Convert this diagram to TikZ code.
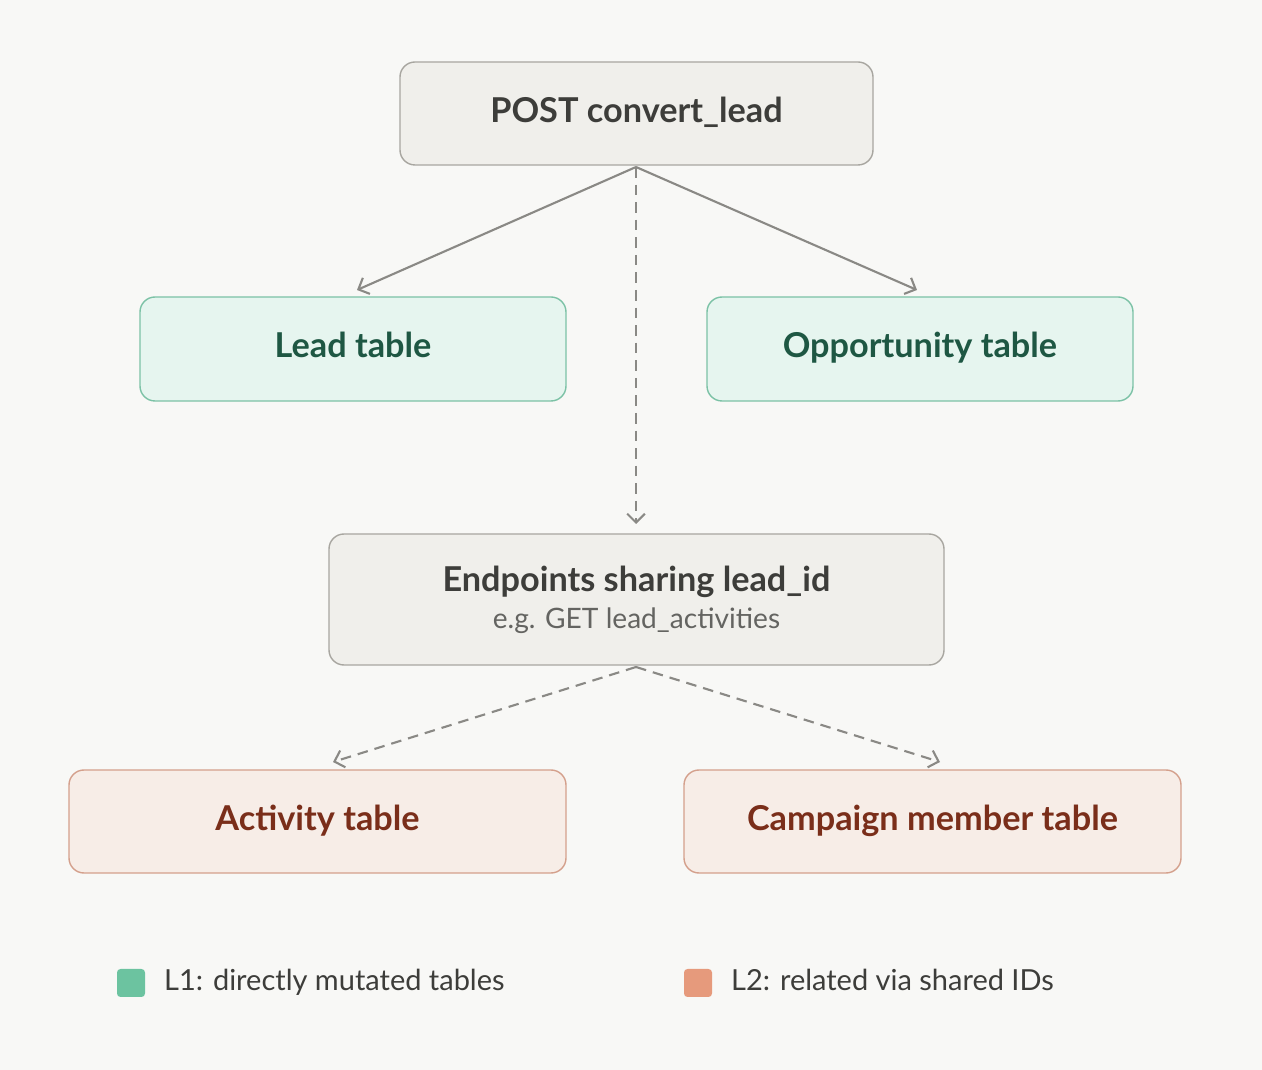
\documentclass[tikz,border=0pt]{standalone}
\usepackage{fontspec}
\setmainfont{Lato}
\usetikzlibrary{arrows.meta}
\definecolor{bg}{HTML}{F8F8F6}
\definecolor{grayfill}{HTML}{F0EFEB}
\definecolor{grayline}{HTML}{A8A6A0}
\definecolor{grayText}{HTML}{3D3D3A}
\definecolor{greenfill}{HTML}{E6F5EF}
\definecolor{greenline}{HTML}{7CC2A6}
\definecolor{greenText}{HTML}{1E5743}
\definecolor{orfill}{HTML}{F7EDE7}
\definecolor{orline}{HTML}{D4A08C}
\definecolor{orText}{HTML}{7A2E1A}
\definecolor{arr}{HTML}{8A8985}
\definecolor{lgreen}{HTML}{6CC3A0}
\definecolor{lorange}{HTML}{E69A7C}
\begin{document}
\begin{tikzpicture}[x=0.02cm,y=-0.02cm,
 box/.style={rounded corners=0.3cm, line width=0.8pt, font=\fontsize{19.5}{22}\selectfont\bfseries, align=center, text height=14pt, text depth=4pt},
 gbox/.style={box, fill=grayfill, draw=grayline, text=grayText},
 lbox/.style={box, fill=greenfill, draw=greenline, text=greenText},
 obox/.style={box, fill=orfill, draw=orline, text=orText},
 con/.style={draw=arr, line width=1.2pt, -{Straight Barb[length=5pt,width=10pt]}},
 dcon/.style={con, dash pattern=on 6pt off 4pt},
 leg/.style={font=\fontsize{16.5}{18}\selectfont, text=grayText, anchor=west, text height=12pt, text depth=3pt}]
\fill[bg] (0,0) rectangle (1262,1070);
\node[gbox, minimum width=473*0.02cm, minimum height=103*0.02cm] (post) at (636.5,113.5) {POST convert\_lead};
\node[lbox, minimum width=426*0.02cm, minimum height=104*0.02cm] (lead) at (353,349) {Lead table};
\node[lbox, minimum width=426*0.02cm, minimum height=104*0.02cm] (opp) at (920,349) {Opportunity table};
\node[gbox, minimum width=615*0.02cm, minimum height=131*0.02cm, text height=, text depth=] (ep) at (636.5,599.5) {Endpoints sharing lead\_id\\[-1pt]{\fontsize{16}{18}\selectfont\mdseries\color{grayText!80} e.g. GET lead\_activities}};
\node[obox, minimum width=497*0.02cm, minimum height=103*0.02cm] (act) at (317.5,821.5) {Activity table};
\node[obox, minimum width=497*0.02cm, minimum height=103*0.02cm] (camp) at (932.5,821.5) {Campaign member table};
\coordinate (pt) at (636,167);
\coordinate (eb) at (636,667);
\coordinate (lt) at (357,290);
\coordinate (ot) at (917,290);
\coordinate (et) at (636,524);
\coordinate (at) at (333,762);
\coordinate (ct) at (940,762);
\draw[con] (pt) -- (lt);
\draw[con] (pt) -- (ot);
\draw[dcon] (pt) -- (et);
\draw[dcon] (eb) -- (at);
\draw[dcon] (eb) -- (ct);
\fill[lgreen, rounded corners=2pt] (117,969) rectangle (145,997);
\node[leg] (l1) at (158,983) {L1: directly mutated tables};
\fill[lorange, rounded corners=2pt] (684,969) rectangle (712,997);
\node[leg] (l2) at (725,983) {L2: related via shared IDs};
\end{tikzpicture}
\end{document}
